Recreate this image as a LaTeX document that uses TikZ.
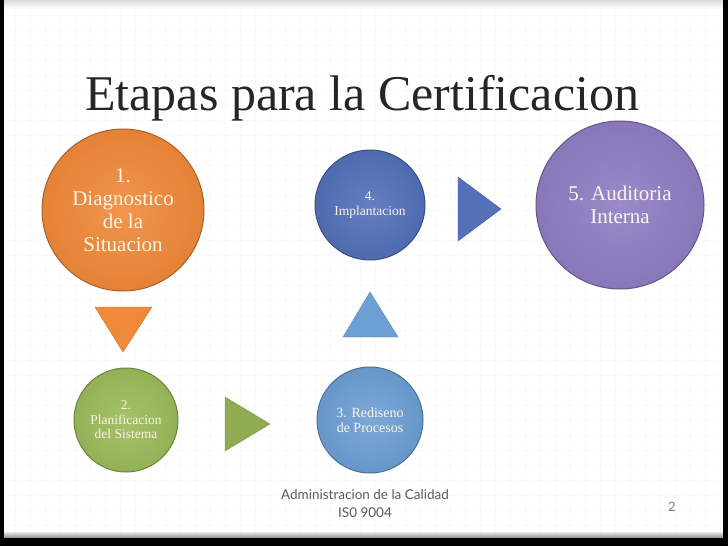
\documentclass[tikz,border=0pt]{standalone}
\usepackage{fontspec}
\setmainfont{Liberation Serif}
\newfontfamily\piefont{Lato}
\usepackage{xcolor}

\definecolor{naranja}{HTML}{F0893A}
\definecolor{verde}{HTML}{9BBB59}
\definecolor{celeste}{HTML}{6C9FD4}
\definecolor{azul}{HTML}{5370B9}
\definecolor{morado}{HTML}{8F7DC3}
\definecolor{crema}{HTML}{FCF4E6}
\definecolor{titulo}{HTML}{262626}
\definecolor{pie}{HTML}{5A5A5A}

\tikzset{
  etapa/.style={circle, inner sep=0pt, align=center, text=crema,
    draw=#1!70!black, line width=1pt,
    inner color=#1!90!white, outer color=#1!95!black},
  flecha/.style={fill=#1, draw=#1!85!black, line width=0.4pt}
}

\begin{document}
\begin{tikzpicture}[x=1pt, y=-1pt]
	\useasboundingbox (0,0) rectangle (728,546);
	% fondo y marco
	\fill[white] (0,0) rectangle (728,546);
	\foreach \i in {15,30,...,720}
		\draw[black!2.5, line width=0.5pt] (\i,0) -- (\i,546);
	\foreach \j in {15,30,...,540}
		\draw[black!2.5, line width=0.5pt] (0,\j) -- (728,\j);
	\shade[top color=black!14, bottom color=white] (4,0) rectangle (723,9);
	\shade[top color=black!10, bottom color=black!45] (4,532) rectangle (723,538);
	\fill[black] (0,0) rectangle (4,546);
	\fill[black] (723,0) rectangle (728,546);
	\fill[black] (0,538) rectangle (728,546);

	% titulo
	\node[anchor=base west, inner sep=0pt, text=titulo, font=\fontsize{50}{55}\selectfont] (tit) at (85,110) {Etapas para la Certificacion};

	% etapas
	\node[etapa=naranja, minimum size=162pt, font=\fontsize{21}{23}\selectfont] (diag) at (123,210) {1.\\Diagnostico\\de la\\Situacion};
	\node[etapa=verde, minimum size=104pt, font=\fontsize{13.5}{14.5}\selectfont] (plan) at (126,420) {2.\\Planificacion\\del Sistema};
	\node[etapa=celeste, minimum size=106pt, font=\fontsize{14}{15}\selectfont] (redis) at (370,420) {3. Rediseno\\de Procesos};
	\node[etapa=azul, minimum size=110pt, font=\fontsize{13.5}{15}\selectfont] (impl) at (370,205) {4.\\Implantacion};
	\node[etapa=morado, minimum size=168pt, font=\fontsize{21}{23}\selectfont] (audit) at (620,205) {5. Auditoria\\Interna};

	% flechas
	\draw[flecha=naranja] (95,307) -- (152,307) -- (123,352) -- cycle;
	\draw[flecha=verde!92!black] (225,397) -- (270,424) -- (225,451) -- cycle;
	\draw[flecha=celeste] (343,337) -- (370,292) -- (398,337) -- cycle;
	\draw[flecha=azul] (458,177) -- (501,209) -- (458,241) -- cycle;

	% pie
	\node[text=pie, font=\piefont\fontsize{13.5}{18}\selectfont, align=center] (adm) at (365,504) {Administracion de la Calidad\\IS0 9004};
	\node[text=pie!80, font=\piefont\fontsize{13}{13}\selectfont] (num) at (672,507) {2};
\end{tikzpicture}
\end{document}
